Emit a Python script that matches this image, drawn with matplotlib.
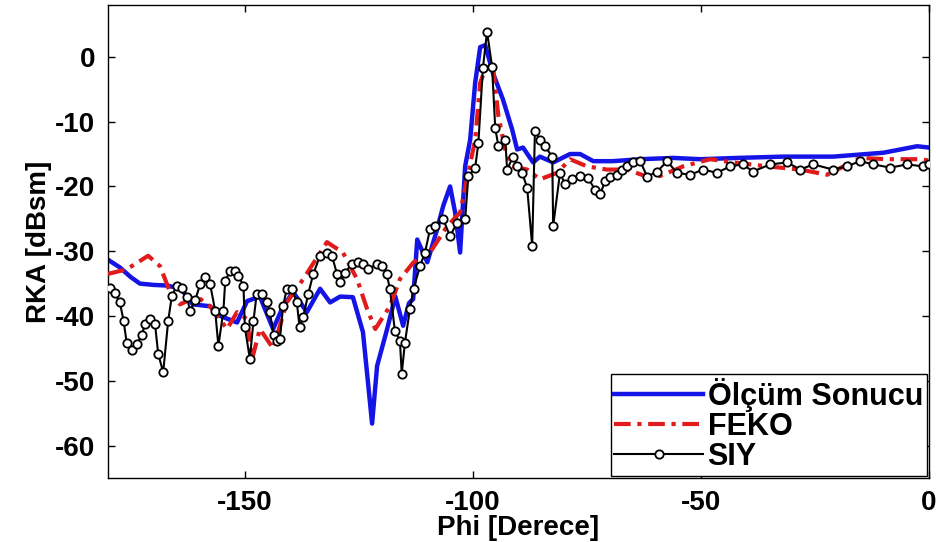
import matplotlib
matplotlib.use("Agg")
import matplotlib.pyplot as plt

plt.rcParams['font.family'] = ['Liberation Sans', 'DejaVu Sans']
plt.rcParams['font.weight'] = 'bold'
plt.rcParams['axes.unicode_minus'] = False

# --- data ---
olcum_phi = [-180, -179.6, -177.4, -175, -173, -170, -167, -164, -161.4, -157.6, -155.4, -151.7,
             -149.5, -146.7, -143.8, -141.6, -139.4, -136.4, -133.5, -131.3, -129.1, -126.3,
             -124.1, -122.1, -121, -118.8, -117, -115.3, -114, -113.1, -112.2, -110, -108,
             -106.5, -105, -103.9, -102.8, -101.7, -100.6, -99.5, -98.4, -97.3, -95.6, -93.4,
             -91.4, -90.3, -89, -86.8, -85.3, -82.4, -78.7, -76.5, -73.6, -69.3, -63.3, -56.1,
             -50.2, -42, -32, -21, -10, -2.6, 0]
olcum_val = [-31.3, -31.5, -32.5, -34, -35, -35.2, -35.3, -35.8, -38.2, -38.5, -40, -41,
             -37.7, -37, -42, -38.5, -36.3, -39.4, -35.8, -37.9, -37, -37.1,
             -42.5, -56.6, -47.7, -42, -37, -41.5, -38, -37.4, -28.2, -31.7, -27,
             -23, -20, -24, -30.2, -16.9, -12.8, -4, 1.5, 1.8, -2.5, -6.6,
             -11.2, -14.3, -14, -16.3, -15.4, -16.3, -15, -15, -16.1, -16.1, -15.8, -15.6,
             -15.8, -15.6, -15.4, -15.4, -14.8, -13.8, -14]

feko_phi = [-180, -175.9, -171.2, -168.6, -166.4, -164.2, -160.5, -157.6, -153.9, -151.7, -149.5,
            -148.4, -146.7, -143.8, -140.8, -137.2, -132, -128.5, -125.4, -123.2, -121.4, -118.2,
            -116, -113, -109.4, -105.7, -102.8, -101, -99.5, -98.4, -96.9, -95.6, -94.4, -92.9,
            -91.4, -88.1, -85.3, -81.5, -78.7, -75, -70.6, -66.2, -61.8, -59, -53.9, -48, -42.9,
            -35.5, -28.2, -22.3, -15.1, -9.2, -1.9, 0]
feko_val = [-33.5, -32.8, -30.7, -32.3, -36.3, -38.2, -37, -38.5, -42, -39.4, -40.5,
            -46.6, -42, -45, -37.9, -34.3, -28.6, -30.2, -34.3, -38.9, -42, -38.5,
            -34.3, -31.7, -30.2, -26.2, -24, -17.9, -12.8, -4, -1.2, -1.5, -9.2, -14.3,
            -16.9, -17.4, -18.9, -17.9, -15.8, -16.9, -17.4, -17.4, -18.5, -18.4, -16.9, -15.8, -16.3,
            -16.9, -17.4, -18.2, -15.6, -15.8, -15.8, -16]

siy_phi = [-179.6, -178.5, -177.4, -176.6, -175.9, -174.8, -173.7, -172.6, -171.9, -170.8, -169.7,
           -169.0, -167.9, -166.8, -166.0, -164.9, -163.8, -162.7, -162.0, -160.9, -159.8, -158.7,
           -157.6, -156.5, -155.8, -154.7, -154.3, -153.2, -152.1, -151.4, -150.3, -150.0, -148.9,
           -148.1, -147.4, -146.3, -145.2, -144.5, -143.7, -143.0, -142.3, -141.6, -140.8, -139.7,
           -138.6, -138.0, -137.2, -136.1, -135.0, -133.5, -132.0, -130.9, -129.8, -129.1, -128.0,
           -126.6, -125.1, -124.0, -122.9, -121.1, -120.0, -118.9, -118.2, -117.1, -116.0, -115.6,
           -114.9, -113.8, -113.0, -111.6, -110.5, -109.4, -108.3, -106.5, -105.0, -103.5, -101.7,
           -101.0, -99.5, -98.8, -97.8, -96.9, -95.8, -95.1, -94.4, -92.9, -92.5, -91.2, -90.3,
           -89.2, -88.1, -87.0, -86.4, -85.3, -84.2, -82.6, -82.4, -80.9, -79.8, -78.2, -76.5,
           -74.8, -73.2, -72.1, -71.0, -70.0, -68.4, -67.2, -66.2, -64.8, -63.3, -61.8, -59.6,
           -57.4, -55.3, -52.4, -49.5, -46.5, -43.6, -40.8, -38.6, -34.8, -31.1, -28.2, -25.4,
           -21.0, -18.0, -15.1, -12.2, -8.5, -4.8, -1.3, 0]
siy_val = [-35.6, -36.4, -37.9, -40.7, -44.1, -45.3, -44.3, -43.0, -41.2, -40.5, -41.2,
           -45.8, -48.7, -40.7, -36.9, -35.3, -35.6, -37.1, -39.2, -37.6, -35.1, -34.0,
           -35.1, -39.2, -44.6, -39.2, -34.6, -33.0, -33.0, -33.8, -35.3, -41.7, -46.6,
           -40.7, -36.6, -36.6, -37.9, -39.4, -43.0, -43.8, -43.5, -38.4, -35.8, -35.8,
           -37.9, -41.7, -40.2, -36.6, -33.5, -30.7, -30.2, -30.7, -33.5, -34.8, -33.3,
           -32.0, -31.7, -32.0, -32.8, -32.0, -32.3, -33.5, -35.8, -42.3, -43.8, -48.9,
           -44.1, -38.9, -35.8, -32.3, -30.2, -26.6, -26.1, -25.1, -27.7, -25.6, -25.1,
           -18.4, -17.1, -13.3, -1.7, 3.9, -1.5, -11.0, -13.8, -12.8, -17.4, -15.4, -16.9,
           -17.9, -20.2, -29.2, -11.5, -12.8, -13.8, -15.4, -26.1, -17.9, -19.7, -18.9, -18.4,
           -18.7, -20.5, -21.2, -19.2, -18.6, -18.2, -17.4, -16.9, -16.3, -16.1, -18.5, -17.7,
           -16.1, -17.9, -18.2, -17.4, -17.9, -16.9, -16.6, -17.7, -16.6, -16.3, -17.4, -16.6,
           -17.4, -16.9, -16.1, -16.6, -17.1, -16.6, -16.9, -16.6]

labels = ['Ölçüm Sonucu', 'FEKO', 'SIY']
xticks = [-150, -100, -50, 0]
yticks = [-60, -50, -40, -30, -20, -10, 0]

fig = plt.figure(figsize=(9.36, 5.42), dpi=100)
ax = fig.add_axes([108/936, 64/542, 821/936, 473/542])

ax.plot(olcum_phi, olcum_val, color='#1414e6', lw=3.2, label=labels[0], zorder=2)
ax.plot(feko_phi, feko_val, color='#e11b1b', lw=3.0, dashes=[4, 1.6, 1, 1.6], label=labels[1], zorder=3)
ax.plot(siy_phi, siy_val, color='black', lw=1.5, marker='o', markersize=6,
        markerfacecolor='white', markeredgecolor='black', markeredgewidth=1.3,
        label=labels[2], zorder=4)

ax.set_xlim(-180, 0)
ax.set_ylim(-65, 8)
ax.set_xticks(xticks)
ax.set_yticks(yticks)
ax.tick_params(direction='in', length=5, width=1, top=True, right=True, labelsize=20, pad=9)
for lab in ax.get_xticklabels() + ax.get_yticklabels():
    lab.set_fontweight('bold')
for s in ax.spines.values():
    s.set_linewidth(1.0)

ax.set_xlabel('Phi [Derece]', fontsize=20, fontweight='bold', labelpad=-1)
ax.set_ylabel('RKA [dBsm]', fontsize=20, fontweight='bold', labelpad=2)

leg = ax.legend(loc='lower right', fontsize=22, frameon=True, fancybox=False,
                edgecolor='black', framealpha=1, handlelength=2.9, handletextpad=0.15,
                borderpad=0.12, labelspacing=0.0, borderaxespad=0.08)
leg.get_frame().set_linewidth(1.0)
for t in leg.get_texts():
    t.set_fontweight('bold')

fig.savefig('out.png', dpi=100)
